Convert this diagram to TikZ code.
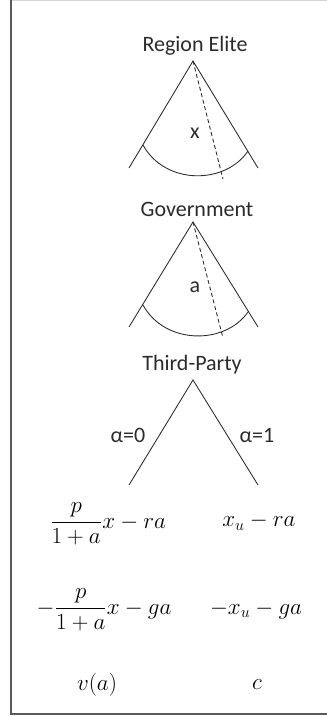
\documentclass[tikz,border=0pt]{standalone}
\usepackage{amsmath}
\usepackage{fontspec}
\setmainfont{Carlito}
\usetikzlibrary{positioning}
\definecolor{ink}{HTML}{2B2B2B}
\definecolor{framegray}{HTML}{5A5A5A}
\definecolor{rulegray}{HTML}{D4D4D4}
\tikzset{
  player/.style={inner sep=1pt,font=\fontsize{16.5}{18}\selectfont,text=ink},
  branch/.style={draw=ink,line width=0.65pt},
  choice/.style={draw=ink,line width=0.65pt,densely dashed},
  payoff/.style={inner sep=1pt,font=\fontsize{16.5}{18}\selectfont}
}

\begin{document}
\begin{tikzpicture}[x=0.75pt,y=-0.75pt]
\useasboundingbox (0,0) rectangle (327,717);
% frame
\draw[rulegray,line width=0.8pt] (11,0.5) -- (327,0.5);
\draw[framegray,line width=1.6pt] (11,0) -- (11,714) -- (327,714);
% region elite
\node[player] (re) at (195,46) {Region Elite};
\coordinate (reTop) at (193,61);
\coordinate (reL) at (129,168); \coordinate (reR) at (258,168);
\coordinate (reX) at (223,179);
\coordinate (reArcL) at (143,145); \coordinate (reArcR) at (248,151);
\draw[branch] (reL) -- (reTop) -- (reR);
\draw[choice] (reTop) -- (reX);
\draw[branch] (reArcL) .. controls (165,185) and (225,185) .. (reArcR);
\node[player] (reLab) at (195,133) {x};
% government
\node[player] (gov) at (197,209) {Government};
\coordinate (govTop) at (193,222);
\coordinate (govL) at (129,327); \coordinate (govR) at (258,327);
\coordinate (govA) at (223,338);
\coordinate (govArcL) at (143,305); \coordinate (govArcR) at (248,312);
\draw[branch] (govL) -- (govTop) -- (govR);
\draw[choice] (govTop) -- (govA);
\draw[branch] (govArcL) .. controls (165,345) and (225,345) .. (govArcR);
\node[player] (govLab) at (195,287) {a};
% third party
\node[player] (tp) at (192,365) {Third-Party};
\coordinate (tpTop) at (193,380);
\coordinate (tpL) at (129,485); \coordinate (tpR) at (258,485);
\draw[branch] (tpL) -- (tpTop) -- (tpR);
\node[player] (tpLabL) at (128,435) {α=0};
\node[player] (tpLabR) at (257,435) {α=1};
% payoffs
\node[payoff] (eliteL) at (108,524) {$\dfrac{p}{1+a}x-ra$};
\node[payoff] (eliteR) at (259,522) {$x_u-ra$};
\node[payoff] (govtL) at (104,610) {$-\dfrac{p}{1+a}x-ga$};
\node[payoff] (govtR) at (256,610) {$-x_u-ga$};
\node[payoff] (thirdL) at (97,685) {$v(a)$};
\node[payoff] (thirdR) at (257,685) {$c$};
\end{tikzpicture}
\end{document}
